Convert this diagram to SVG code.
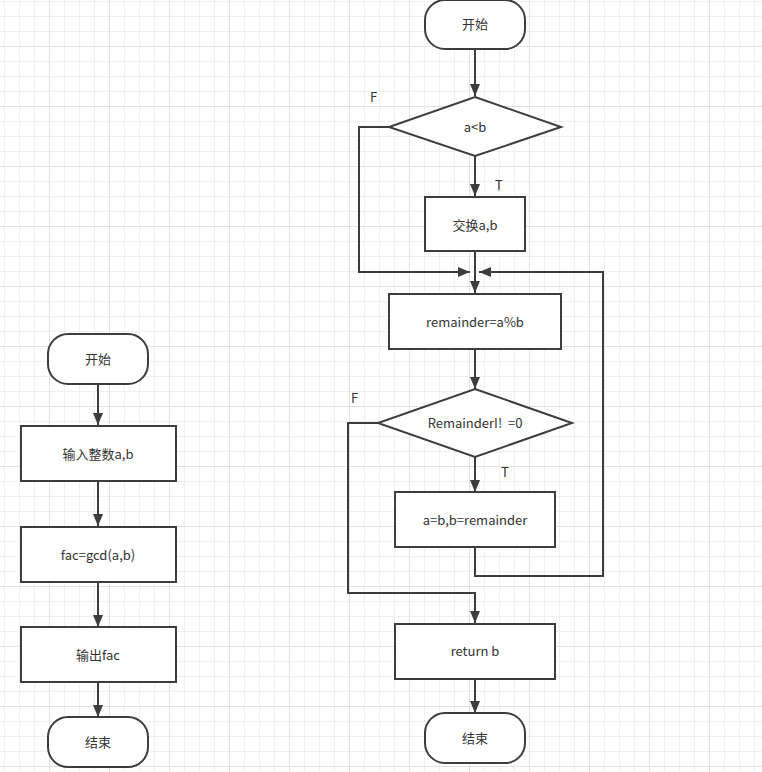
<svg xmlns="http://www.w3.org/2000/svg" width="762" height="772" viewBox="0 0 762 772">
<style>
.n{fill:#fff;stroke:#3d3d3d;stroke-width:2}
.t{font-family:"Noto Sans CJK SC","Microsoft YaHei",sans-serif;font-size:13px;fill:#333;text-anchor:middle;dominant-baseline:central}
.c{fill:none;stroke:#3d3d3d;stroke-width:2;marker-end:url(#ah)}
.lb{font-family:"Noto Sans CJK SC","Microsoft YaHei",sans-serif;font-size:13px;fill:#333}
</style>
<defs>
<pattern id="grid" patternUnits="userSpaceOnUse" x="-11" y="-14" width="60" height="60">
<path d="M15.5,0V60M30.5,0V60M45.5,0V60M0,15.5H60M0,30.5H60M0,45.5H60" stroke="#f0f0f0" stroke-width="1" fill="none"/>
<path d="M0.5,0V60M0,0.5H60" stroke="#e2e2e2" stroke-width="1" fill="none"/>
</pattern>
<marker id="ah" markerUnits="userSpaceOnUse" markerWidth="12" markerHeight="10" refX="12" refY="5" orient="auto">
<path d="M0,0L12,5L0,10Z" fill="#3d3d3d"/>
</marker>
</defs>
<rect width="762" height="772" fill="#fff"/>
<rect width="762" height="772" fill="url(#grid)"/>
<g id="connectors">
<path class="c" d="M98,384V425"/>
<path class="c" d="M98,481V526"/>
<path class="c" d="M98,582V627"/>
<path class="c" d="M98,682V717"/>
<path class="c" d="M475,49V96"/>
<path class="c" d="M475,156V196"/>
<path class="c" d="M475,251V293"/>
<path class="c" d="M389,127H359V272H470"/>
<path class="c" d="M475,547V576H603V272H479"/>
<path class="c" d="M475,349V389"/>
<path class="c" d="M475,457V492"/>
<path class="c" d="M378,423H348V593H475V623"/>
<path class="c" d="M475,679V713"/>
<text class="lb" x="370" y="102">F</text>
<text class="lb" x="495" y="190">T</text>
<text class="lb" x="351" y="403">F</text>
<text class="lb" x="501" y="477">T</text>
</g>
<g id="l_start"><rect class="n" x="48" y="334" width="100" height="50" rx="20"/><text class="t" x="98" y="358">开始</text></g>
<g id="l_input"><rect class="n" x="21" y="426" width="155" height="55"/><text class="t" x="98" y="453">输入整数a,b</text></g>
<g id="l_fac"><rect class="n" x="21" y="527" width="155" height="55"/><text class="t" x="98" y="554">fac=gcd(a,b)</text></g>
<g id="l_output"><rect class="n" x="21" y="627" width="155" height="55"/><text class="t" x="98" y="654">输出fac</text></g>
<g id="l_end"><rect class="n" x="48" y="717" width="100" height="50" rx="20"/><text class="t" x="98" y="741">结束</text></g>
<g id="r_start"><rect class="n" x="425" y="0" width="100" height="49" rx="20"/><text class="t" x="475" y="23">开始</text></g>
<g id="r_cmp"><polygon class="n" points="475,97 561,127 475,156 389,127"/><text class="t" x="475" y="126">a&lt;b</text></g>
<g id="r_swap"><rect class="n" x="425" y="197" width="100" height="54"/><text class="t" x="475" y="224">交换a,b</text></g>
<g id="r_rem"><rect class="n" x="389" y="294" width="172" height="55"/><text class="t" x="475" y="321">remainder=a%b</text></g>
<g id="r_check"><polygon class="n" points="475,389 572,423 475,457 378,423"/><text class="t" x="475" y="422" xml:space="preserve">RemainderI!  =0</text></g>
<g id="r_assign"><rect class="n" x="395" y="492" width="160" height="55"/><text class="t" x="475" y="519">a=b,b=remainder</text></g>
<g id="r_return"><rect class="n" x="395" y="624" width="160" height="55"/><text class="t" x="475" y="650">return b</text></g>
<g id="r_end"><rect class="n" x="425" y="713" width="100" height="50" rx="20"/><text class="t" x="475" y="737">结束</text></g>
</svg>
